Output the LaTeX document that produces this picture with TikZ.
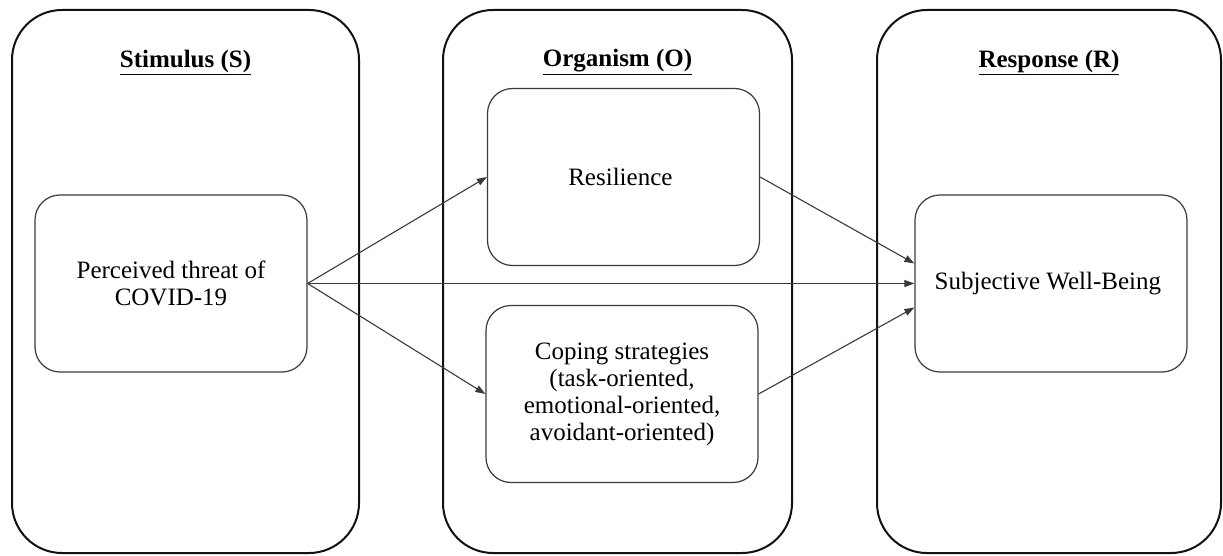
\documentclass[tikz,border=0pt]{standalone}
\usepackage{fontspec}
\setmainfont{Liberation Serif}
\usepackage{tikz}
\usetikzlibrary{
  arrows.meta,
  positioning
}
\definecolor{FrameBlack}{HTML}{111111}
\definecolor{BoxGray}{HTML}{3A3A3A}
\tikzset{
  stage/.style={
    draw=FrameBlack,
    line width=2pt,
    rounded corners=50pt,
    minimum height=543pt
  },
  stagetitle/.style={
    font=\fontsize{25}{28}\selectfont\bfseries,
    inner sep=0pt
  },
  varbox/.style={
    draw=BoxGray,
    line width=1.2pt,
    rounded corners=25pt,
    align=center,
    minimum width=272pt,
    minimum height=177pt,
    font=\fontsize{25}{27}\selectfont
  },
  effect/.style={
    -{Triangle[length=10pt,width=7pt]},
    draw=BoxGray,
    line width=1.1pt
  }
}

\begin{document}
\begin{tikzpicture}[x=1pt,y=-1pt]

  \useasboundingbox (0,0) rectangle (1223,556);

  \node[
    stage,
    minimum width=347pt
  ] at (185.5,281.5) (stimulus) {};

  \node[
    stage,
    minimum width=349pt
  ] at (617.5,281.5) (organism) {};

  \node[
    stage,
    minimum width=344pt
  ] at (1049,281.5) (response) {};

  \node[stagetitle] at (stimulus.north |- 0,62) (stimtitle) {
    \underline{Stimulus (S)}
  };

  \node[stagetitle] at (organism.north |- 0,62) (orgtitle) {
    \underline{Organism (O)}
  };

  \node[stagetitle] at (response.north |- 0,62) (resptitle) {
    \underline{Response (R)}
  };

  \node[varbox] at (171,283.5) (threat) {
    Perceived threat of\\
    COVID-19
  };

  \node[varbox] at (623.5,177) (resilience) {
    Resilience
  };

  \node[varbox] at (622,394) (coping) {
    Coping strategies\\
    (task-oriented,\\
    emotional-oriented,\\
    avoidant-oriented)
  };

  \node[varbox] at (1051,283.5) (wellbeing) {
    Subjective Well-Being
  };

  \draw[effect]
  (threat.east) --
  (resilience.west);

  \draw[effect]
  (threat.east) --
  (coping.west);

  \draw[effect]
  (threat.east) --
  (wellbeing.west);

  \draw[effect]
  (resilience.east) --
  ([yshift=20pt]wellbeing.west);

  \draw[effect]
  (coping.east) --
  ([yshift=-24pt]wellbeing.west);

\end{tikzpicture}
\end{document}
